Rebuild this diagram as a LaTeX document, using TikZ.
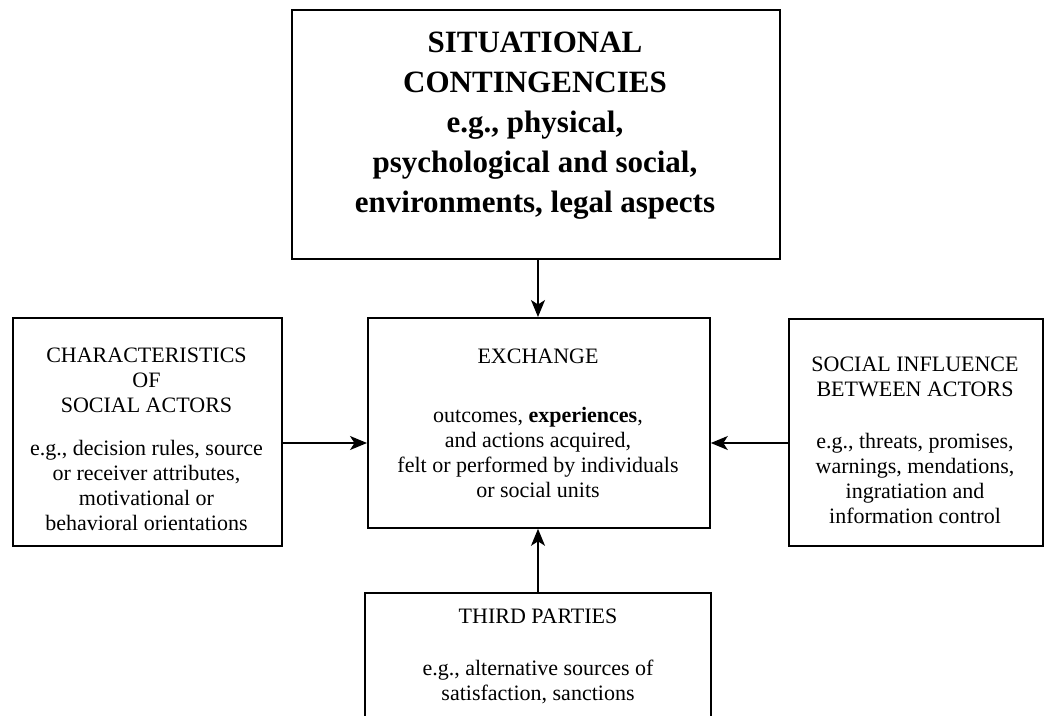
\documentclass[tikz,border=0pt]{standalone}
\usepackage{fontspec}
\setmainfont{Liberation Serif}
\usetikzlibrary{arrows.meta}
\begin{document}
\begin{tikzpicture}[x=1pt,y=-1pt,
  box/.style={draw, line width=1.8pt, inner sep=0pt, anchor=north west},
  txt/.style={font=\fontsize{22}{25}\selectfont, align=center, inner sep=0pt, anchor=north},
  bigtxt/.style={font=\fontsize{31}{40}\selectfont\bfseries, align=center, inner sep=0pt, anchor=north},
  arr/.style={line width=1.5pt, -{Stealth[length=17pt,width=14pt,inset=4.5pt]}}]
\useasboundingbox (0,0) rectangle (1046,715);
\fill[white] (0,0) rectangle (1046,715);
% boxes
\node[box, minimum width=488, minimum height=249] (top) at (291,9) {};
\node[box, minimum width=269, minimum height=228] (left) at (12,317) {};
\node[box, minimum width=342, minimum height=210] (center) at (367,317) {};
\node[box, minimum width=254, minimum height=227] (right) at (788,318) {};
% bottom box (runs past the lower edge of the picture)
\coordinate (bl) at (365,720);
\coordinate (br) at (711,720);
\coordinate (bottomtop) at (538,593);
\draw[line width=1.8pt] (bl) |- (bottomtop) -| (br);
% texts
\node[bigtxt] (toptext) at (535,32) {SITUATIONAL\\CONTINGENCIES\\e.g., physical,\\psychological and social,\\environments, legal aspects};
\node[txt] (lefttext) at (146.5,347.5) {CHARACTERISTICS\\OF\\SOCIAL ACTORS\\[18pt]e.g., decision rules, source\\or receiver attributes,\\motivational or\\behavioral orientations};
\node[txt] (centertext) at (538,348.5) {EXCHANGE\\[34pt]outcomes, \textbf{experiences},\\and actions acquired,\\felt or performed by individuals\\or social units};
\node[txt] (righttext) at (915,356.5) {SOCIAL INFLUENCE\\BETWEEN ACTORS\\[27pt]e.g., threats, promises,\\warnings, mendations,\\ingratiation and\\information control};
\node[txt] (bottomtext) at (538,608.5) {THIRD PARTIES\\[27pt]e.g., alternative sources of\\satisfaction, sanctions};
% arrows
\draw[arr] (top.south -| bottomtop) -- (center.north -| bottomtop);
\draw[arr] (left.east |- 0,443) -- (center.west |- 0,443);
\draw[arr] (right.west |- 0,443) -- (center.east |- 0,443);
\draw[arr] (bottomtop) -- (bottomtop |- center.south);
\end{tikzpicture}
\end{document}
